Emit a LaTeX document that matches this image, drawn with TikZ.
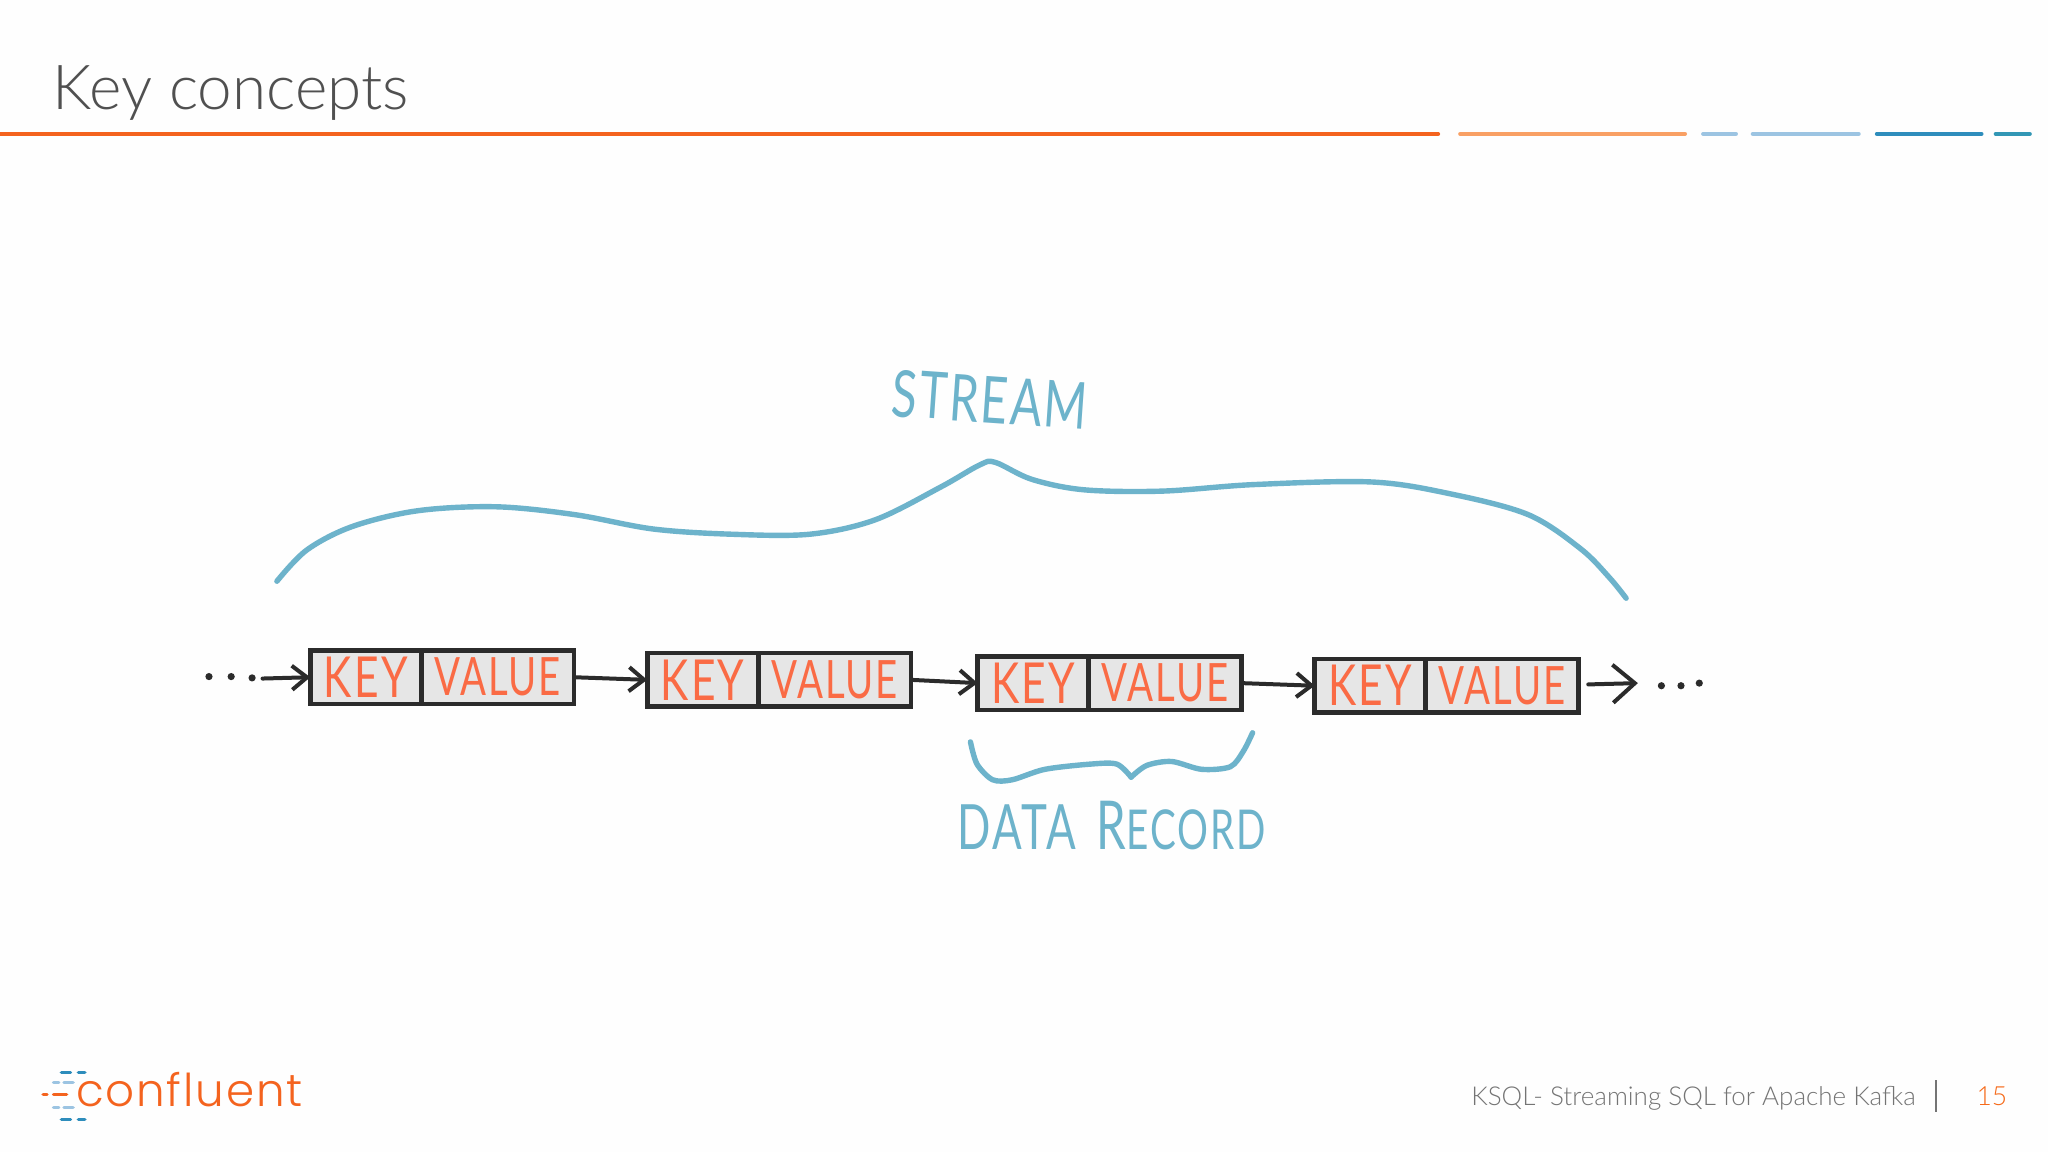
\documentclass[tikz,border=0pt]{standalone}
\usepackage{fontspec}
\setmainfont{Lato}[UprightFont=* Light]
\newfontfamily\handf{Lato}[LetterSpace=5]
\newfontfamily\logof{Poppins}[UprightFont=* Light,LetterSpace=4]
\usetikzlibrary{arrows.meta}
\definecolor{rOrange}{HTML}{F4631E}
\definecolor{rOrangeL}{HTML}{F9A064}
\definecolor{rBlueL}{HTML}{9CC4E2}
\definecolor{rBlueD}{HTML}{2E8DBC}
\definecolor{rTeal}{HTML}{3297B5}
\definecolor{hand}{HTML}{6DB3CB}
\definecolor{ink}{HTML}{2B2B2B}
\definecolor{hot}{HTML}{FA6B45}
\definecolor{cellgray}{HTML}{E6E6E6}
\definecolor{titlegray}{HTML}{505050}
\definecolor{footgray}{HTML}{747474}
\newcommand{\hw}[3]{\resizebox{\dimexpr0.65306pt*#1\relax}{\dimexpr0.65306pt*#2\relax}{\handf #3}}
\tikzset{
  keycell/.style={draw=ink,fill=cellgray,line width=2.4pt,inner sep=0pt,outer sep=0pt,minimum width=55.5pt,minimum height=26.8pt,text=hot},
  valcell/.style={draw=ink,fill=cellgray,line width=2.4pt,inner sep=0pt,outer sep=0pt,minimum width=76.4pt,minimum height=26.8pt,text=hot},
  link/.style={draw=ink,line width=2pt,line cap=round,-{Straight Barb[length=7.5pt,width=12pt,line width=2pt]}},
  linkbig/.style={draw=ink,line width=2pt,line cap=round,-{Straight Barb[length=11pt,width=19pt,line width=2pt]}},
  dotn/.style={circle,fill=ink,inner sep=0pt,minimum size=3.6pt},
  rule/.style={line width=2.1pt,line cap=round},
  handline/.style={draw=hand,line width=2.7pt,line cap=round,line join=round},
  logod/.style={line width=1.7pt,line cap=round},
}
\begin{document}
\begin{tikzpicture}[x=0.65306pt,y=-0.65306pt]
\useasboundingbox (0,0) rectangle (1568,882);
\fill[white!99.5!black] (0,0) rectangle (1568,882);
% title
\node[anchor=base west,inner sep=0pt,text=titlegray,font=\fontsize{31}{36}\selectfont] (title) at (40,84) {Key concepts};
\draw[rule,rOrange] (0,102.5) -- (1101,102.5);
\draw[rule,rOrangeL] (1118,102.5) -- (1290,102.5);
\draw[rule,rBlueL] (1304,102.5) -- (1329,102.5);
\draw[rule,rBlueL] (1342,102.5) -- (1423,102.5);
\draw[rule,rBlueD] (1437,102.5) -- (1517,102.5);
\draw[rule,rTeal] (1528,102.5) -- (1554,102.5);
% stream label
\node[text=hand,rotate=-4,inner sep=0pt] (stream) at (758,306) {\hw{150}{36}{STREAM}};
\draw[handline] plot[smooth,tension=0.55] coordinates {(212,445) (235,421) (270,403) (320,391) (380,388) (440,394) (500,405) (560,409) (620,409) (670,398) (720,373) (750,356) (762,354) (790,367) (830,375) (890,376) (960,371) (1050,369) (1110,378) (1170,394) (1210,420) (1232,442) (1245,458)};
% records
\node[keycell] (k1) at (280,518.5) {\hw{64}{31}{KEY}};
\node[valcell] (v1) at (381,518.5) {\hw{97}{29}{VALUE}};
\node[keycell] (k2) at (538,520.5) {\hw{64}{31}{KEY}};
\node[valcell] (v2) at (639,520.5) {\hw{97}{29}{VALUE}};
\node[keycell] (k3) at (791,523) {\hw{64}{31}{KEY}};
\node[valcell] (v3) at (892,523) {\hw{97}{29}{VALUE}};
\node[keycell] (k4) at (1049,525) {\hw{64}{31}{KEY}};
\node[valcell] (v4) at (1150,525) {\hw{97}{29}{VALUE}};
% connectors
\coordinate (instart) at (201,519.5);
\coordinate (outstart) at (1216,524);
\coordinate (outend) at (1254,523);
\draw[link] (instart) -- (k1.west);
\draw[link] (v1.east) -- (k2.west);
\draw[link] (v2.east) -- (k3.west);
\draw[link] (v3.east) -- (k4.west);
\draw[linkbig] (outstart) -- (outend);
% dots
\node[dotn] (d1) at (160,518) {};
\node[dotn] (d2) at (177,518) {};
\node[dotn] (d3) at (193,519) {};
\node[dotn] (d4) at (1272,525) {};
\node[dotn] (d5) at (1287,525) {};
\node[dotn] (d6) at (1301,523) {};
% data record
\draw[handline] plot[smooth,tension=0.5] coordinates {(743,568) (748,585) (760,597) (775,597) (800,589) (835,585) (855,585) (866,595)};
\draw[handline] plot[smooth,tension=0.5] coordinates {(866,595) (878,586) (897,583) (920,589) (942,587) (952,575) (959,561)};
\node[text=hand,inner sep=0pt] (record) at (851,632) {\hw{236}{37}{{\fontsize{12.5}{14}\selectfont DATA}\hspace{0.6em}{\fontsize{13.5}{14}\selectfont R}{\fontsize{11}{14}\selectfont ECORD}}};
% logo
\node[anchor=base west,inner sep=0pt,text=rOrange] (logo) at (58,847) {\resizebox{113.2pt}{!}{\logof confluent}};
\draw[logod,rBlueD] (47,821) -- (54,821) (60,821) -- (65,821);
\draw[logod,rBlueL] (41,829) -- (45,829) (49,829) -- (56,829);
\draw[logod,rOrange] (33,838) -- (36,838) (41,838) -- (51,838);
\draw[logod,rBlueL] (41,848) -- (45,848) (49,848) -- (56,848);
\draw[logod,rBlueD] (47,857) -- (54,857) (60,857) -- (65,857);
% footer
\node[anchor=base east,inner sep=0pt,text=footgray,font=\fontsize{13}{16}\selectfont] (foot) at (1467,846.5) {KSQL- Streaming SQL for Apache Kafka};
\draw[footgray,line width=1.2pt] (1482,827) -- (1482,851);
\node[anchor=base west,inner sep=0pt,text=rOrange!80!orange,font=\fontsize{13.2}{16}\selectfont] (page) at (1513,846.5) {15};
\end{tikzpicture}
\end{document}
